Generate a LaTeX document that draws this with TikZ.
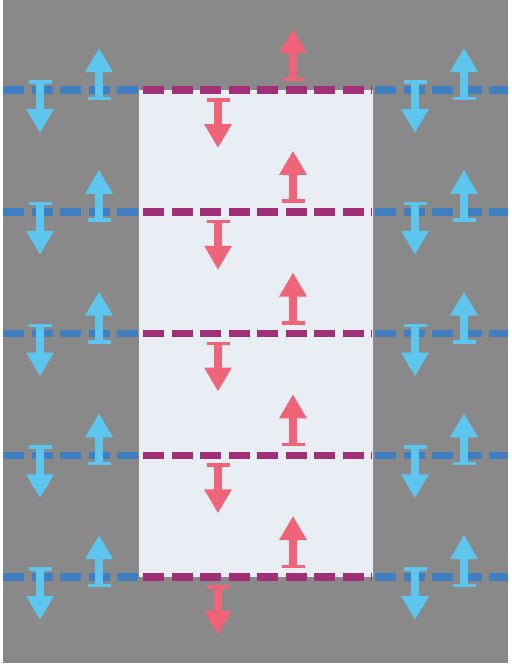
\documentclass[tikz,border=0pt]{standalone}
\usepackage{tikz}
\usetikzlibrary{arrows.meta}
\definecolor{bggray}{HTML}{898989}
\definecolor{paper}{HTML}{E9EDF4}
\definecolor{seamblue}{HTML}{3F7EC0}
\definecolor{skyblue}{HTML}{5CC6EF}
\definecolor{wine}{HTML}{A02F78}
\definecolor{rose}{HTML}{EF6479}
\tikzset{
  seam/.style={line width=7.5pt, dash pattern=on 21pt off 7.5pt},
  outseam/.style={seam, draw=seamblue},
  inseam/.style={seam, draw=wine},
  flux/.style={line width=8.5pt, {Bar[width=23pt,line width=3.5pt]}-{Triangle[width=26pt,length=24pt]}},
  outflux/.style={flux, draw=skyblue},
  influx/.style={flux, draw=rose}
}
\begin{document}
\begin{tikzpicture}[x=1pt,y=-1pt]
 \useasboundingbox (0,0) rectangle (512,665);
 \fill[bggray] (3,0) rectangle (508,663);
 \fill[paper] (139,90) rectangle (373,577);
 % one row per seam: blue outside, wine inside
 \foreach \y in {90,211.75,333.5,455.25,577}{
  \draw[outseam] (3,\y) -- (139,\y);
  \draw[outseam] (375,\y) -- (508,\y);
  \draw[inseam] (143,\y) -- (372,\y);
  \draw[outflux] (40,{\y-10}) -- (40,{\y+43});
  \draw[outflux] (99,{\y+10}) -- (99,{\y-42});
  \draw[outflux] (415,{\y-10}) -- (415,{\y+43});
  \draw[outflux] (464,{\y+10}) -- (464,{\y-42});
  \draw[influx] (218,{\y+8}) -- (218,{\y+58});
  \draw[influx] (293,{\y-9}) -- (293,{\y-61});
 }
\end{tikzpicture}
\end{document}
